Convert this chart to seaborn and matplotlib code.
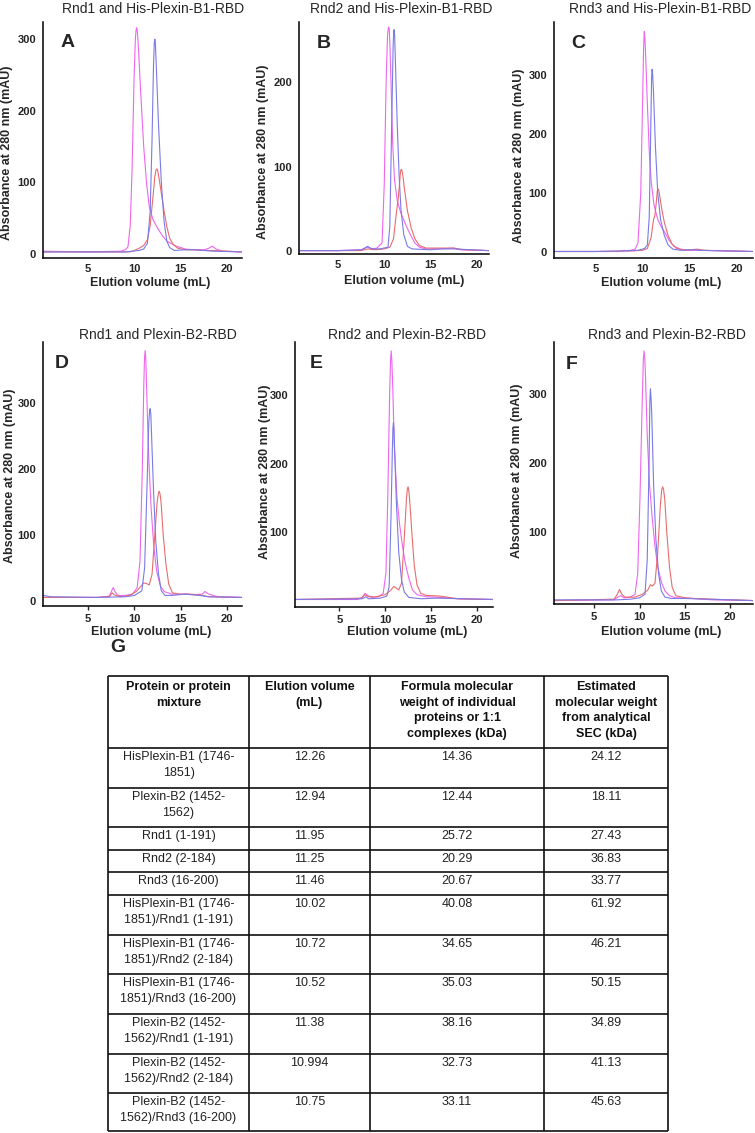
import matplotlib
matplotlib.use("Agg")
import matplotlib.pyplot as plt
import seaborn as sns

# ---- chromatogram traces (elution volume mL, absorbance mAU)
# magenta = 1:1 mixture, blue / red = individual proteins
a_mag_x = [0.2, 5, 8.5, 9.0, 9.3, 9.55, 9.75, 9.95, 10.1, 10.18, 10.25, 10.32, 10.4, 10.7, 11.0, 11.3, 11.6, 12.0, 12.5, 13.0, 13.5, 14.5, 15.5, 16.5, 17.5, 18.0, 18.4, 18.8, 19.5, 21.6]
a_mag_y = [4, 3, 4, 6, 10, 40, 120, 240, 300, 313, 316, 310, 295, 220, 150, 100, 66, 48, 36, 26, 18, 11, 7, 6, 6, 8, 11, 7, 4, 3]
a_blue_x = [0.2, 5, 9, 10.5, 11.0, 11.4, 11.7, 11.9, 12.05, 12.14, 12.2, 12.26, 12.35, 12.6, 12.9, 13.2, 13.5, 13.8, 14.3, 15.5, 16.5, 17.5, 18.5, 21.6]
a_blue_y = [3, 3, 3, 5, 7, 15, 60, 160, 260, 295, 300, 294, 265, 180, 100, 45, 18, 9, 5, 6, 6, 5, 4, 3]
a_red_x = [0.2, 5, 9.5, 10.0, 10.5, 11.0, 11.4, 11.7, 12.0, 12.2, 12.32, 12.42, 12.52, 12.65, 12.9, 13.2, 13.5, 13.8, 14.2, 14.7, 15.5, 16.5, 17.5, 18.5, 21.6]
a_red_y = [3, 3, 3, 5, 8, 12, 20, 40, 80, 108, 117, 119, 116, 106, 85, 60, 38, 22, 13, 8, 6, 6, 5, 5, 3]

b_mag_x = [0.8, 5, 7.5, 7.9, 8.2, 8.6, 9.2, 9.76, 10.0, 10.2, 10.35, 10.42, 10.48, 10.54, 10.62, 10.75, 10.9, 11.1, 11.4, 11.8, 12.3, 12.8, 13.3, 13.8, 14.5, 16.0, 17.5, 18.2, 21.3]
b_mag_y = [1, 1, 2, 4, 5, 3, 4, 10, 80, 200, 255, 263, 265, 262, 240, 190, 130, 85, 60, 45, 32, 20, 10, 5, 3, 3, 4, 2, 1]
b_blue_x = [0.8, 5, 7.6, 8.2, 8.7, 9.5, 10.4, 10.6, 10.8, 10.95, 11.01, 11.06, 11.12, 11.2, 11.4, 11.6, 11.8, 12.1, 12.5, 13.0, 15.0, 16.0, 17.5, 21.3]
b_blue_y = [1, 1, 2, 6, 3, 3, 5, 30, 150, 240, 258, 262, 255, 225, 150, 90, 50, 20, 6, 3, 2, 3, 3, 1]
b_red_x = [0.8, 5, 7.5, 8.2, 9.0, 10.0, 10.6, 11.0, 11.3, 11.5, 11.65, 11.74, 11.82, 11.9, 12.0, 12.2, 12.5, 12.9, 13.3, 13.8, 14.5, 16.0, 17.5, 18.5, 21.3]
b_red_y = [1, 1, 1, 3, 2, 3, 5, 15, 45, 62, 80, 93, 97, 96, 90, 72, 48, 28, 15, 7, 4, 4, 4, 2, 1]

c_mag_x = [0.6, 5, 7.5, 8.0, 8.5, 9.2, 9.5, 9.8, 10.0, 10.1, 10.17, 10.24, 10.32, 10.5, 10.7, 10.9, 11.2, 11.6, 12.0, 12.4, 12.8, 13.3, 14.0, 15.0, 16.0, 21.7]
c_mag_y = [1, 1, 1, 3, 2, 5, 15, 100, 260, 345, 373, 362, 330, 250, 170, 120, 80, 55, 42, 32, 20, 10, 5, 3, 3, 1]
c_blue_x = [0.6, 5, 8.0, 9.5, 10.2, 10.5, 10.7, 10.85, 10.95, 11.0, 11.06, 11.15, 11.35, 11.6, 11.9, 12.3, 12.7, 13.2, 14.0, 15.5, 16.0, 21.7]
c_blue_y = [1, 1, 2, 3, 6, 12, 60, 200, 295, 309, 300, 270, 180, 100, 55, 28, 12, 5, 3, 4, 3, 1]
c_red_x = [0.6, 5, 9.0, 10.0, 10.5, 10.9, 11.15, 11.3, 11.45, 11.55, 11.62, 11.7, 11.8, 12.0, 12.3, 12.7, 13.1, 13.6, 14.5, 15.8, 16.5, 21.7]
c_red_y = [1, 1, 2, 3, 6, 25, 55, 62, 85, 103, 107, 105, 96, 75, 50, 28, 14, 6, 3, 5, 3, 1]

d_mag_x = [0.2, 6.0, 7.3, 7.55, 7.7, 7.9, 8.2, 9.0, 9.8, 10.3, 10.6, 10.85, 11.0, 11.08, 11.15, 11.22, 11.3, 11.5, 11.8, 12.1, 12.4, 12.8, 13.2, 14.0, 15.5, 16.5, 17.3, 17.6, 18.0, 19.0, 21.6]
d_mag_y = [5, 5, 7, 15, 20, 14, 8, 8, 10, 20, 60, 200, 320, 365, 379, 368, 330, 230, 140, 80, 45, 22, 14, 10, 10, 9, 10, 14, 10, 6, 5]
d_blue_x = [0.2, 1.0, 6.0, 9.0, 10.0, 10.8, 11.1, 11.35, 11.55, 11.64, 11.7, 11.77, 11.85, 12.05, 12.3, 12.6, 12.9, 13.3, 14.0, 15.5, 17.0, 18.0, 21.6]
d_blue_y = [8, 6, 5, 6, 8, 15, 50, 170, 270, 288, 291, 282, 250, 170, 90, 40, 15, 8, 8, 10, 8, 6, 5]
d_red_x = [0.2, 6.0, 7.3, 7.6, 7.8, 8.5, 9.5, 10.2, 10.7, 11.0, 11.3, 11.6, 11.9, 12.2, 12.45, 12.58, 12.67, 12.76, 12.88, 13.1, 13.4, 13.7, 14.1, 14.8, 16.0, 17.0, 18.0, 21.6]
d_red_y = [5, 5, 6, 12, 9, 6, 8, 14, 22, 27, 26, 24, 40, 100, 150, 162, 166, 162, 148, 100, 55, 25, 12, 10, 10, 9, 6, 5]

e_mag_x = [0.2, 7.0, 7.5, 7.8, 8.1, 8.5, 9.3, 9.8, 10.1, 10.3, 10.5, 10.6, 10.67, 10.74, 10.85, 11.0, 11.3, 11.6, 11.9, 12.2, 12.6, 13.0, 13.5, 14.5, 16.0, 17.0, 18.0, 21.8]
e_mag_y = [1, 1, 4, 10, 7, 4, 5, 10, 40, 150, 300, 350, 365, 352, 310, 230, 150, 110, 80, 55, 32, 15, 8, 5, 4, 3, 2, 1]
e_blue_x = [0.2, 7.5, 7.9, 8.2, 9.5, 10.2, 10.45, 10.65, 10.8, 10.86, 10.92, 10.98, 11.05, 11.25, 11.5, 11.8, 12.1, 12.6, 14.0, 15.5, 21.8]
e_blue_y = [1, 2, 5, 2, 3, 6, 20, 120, 220, 252, 260, 250, 220, 140, 70, 30, 12, 4, 2, 3, 1]
e_red_x = [0.2, 7.4, 7.8, 8.2, 9.0, 10.0, 10.6, 10.95, 11.2, 11.5, 11.8, 12.1, 12.35, 12.44, 12.52, 12.6, 12.7, 12.95, 13.2, 13.5, 13.9, 14.5, 16.0, 17.0, 18.0, 21.8]
e_red_y = [1, 3, 8, 5, 5, 8, 14, 20, 18, 15, 25, 90, 150, 163, 166, 160, 145, 95, 50, 22, 10, 7, 6, 4, 2, 1]

f_mag_x = [0.6, 7.2, 7.6, 7.9, 8.3, 9.0, 9.5, 9.8, 10.05, 10.3, 10.42, 10.5, 10.58, 10.65, 10.85, 11.1, 11.4, 11.7, 12.0, 12.4, 12.8, 13.3, 14.0, 16.0, 18.0, 22.5]
f_mag_y = [1, 2, 6, 8, 5, 6, 10, 40, 150, 290, 350, 363, 352, 330, 240, 170, 120, 80, 50, 28, 15, 8, 5, 4, 2, 1]
f_blue_x = [0.6, 7.5, 9.0, 10.0, 10.6, 10.85, 11.05, 11.14, 11.2, 11.27, 11.35, 11.55, 11.8, 12.1, 12.4, 12.8, 13.5, 15.0, 22.5]
f_blue_y = [2, 2, 3, 5, 10, 60, 200, 290, 308, 295, 270, 170, 90, 40, 15, 6, 4, 4, 1]
f_red_x = [0.6, 7.2, 7.55, 7.8, 8.05, 8.4, 9.5, 10.3, 10.9, 11.2, 11.4, 11.7, 12.0, 12.3, 12.45, 12.55, 12.65, 12.78, 13.0, 13.3, 13.6, 14.0, 15.0, 16.0, 18.0, 22.5]
f_red_y = [1, 3, 10, 17, 10, 6, 6, 10, 16, 24, 22, 26, 70, 140, 162, 166, 162, 148, 100, 50, 20, 8, 5, 4, 3, 1]

titles = ["Rnd1 and His-Plexin-B1-RBD", "Rnd2 and His-Plexin-B1-RBD", "Rnd3 and His-Plexin-B1-RBD",
          "Rnd1 and Plexin-B2-RBD", "Rnd2 and Plexin-B2-RBD", "Rnd3 and Plexin-B2-RBD"]
letters = ["A", "B", "C", "D", "E", "F"]
x_ticks = [5, 10, 15, 20]
y_ticks_row1 = [[0, 100, 200, 300], [0, 100, 200], [0, 100, 200, 300]]
y_ticks_row2 = [[0, 100, 200, 300], [100, 200, 300], [100, 200, 300]]

# ---- table G
col_headers = ["Protein or protein\nmixture", "Elution volume\n(mL)",
               "Formula molecular\nweight of individual\nproteins or 1:1\ncomplexes (kDa)",
               "Estimated\nmolecular weight\nfrom analytical\nSEC (kDa)"]
proteins = ["HisPlexin-B1 (1746-\n1851)", "Plexin-B2 (1452-\n1562)", "Rnd1 (1-191)", "Rnd2 (2-184)",
            "Rnd3 (16-200)", "HisPlexin-B1 (1746-\n1851)/Rnd1 (1-191)", "HisPlexin-B1 (1746-\n1851)/Rnd2 (2-184)",
            "HisPlexin-B1 (1746-\n1851)/Rnd3 (16-200)", "Plexin-B2 (1452-\n1562)/Rnd1 (1-191)",
            "Plexin-B2 (1452-\n1562)/Rnd2 (2-184)", "Plexin-B2 (1452-\n1562)/Rnd3 (16-200)"]
elution_ml = ["12.26", "12.94", "11.95", "11.25", "11.46", "10.02", "10.72", "10.52", "11.38", "10.994", "10.75"]
formula_kda = ["14.36", "12.44", "25.72", "20.29", "20.67", "40.08", "34.65", "35.03", "38.16", "32.73", "33.11"]
estimated_kda = ["24.12", "18.11", "27.43", "36.83", "33.77", "61.92", "46.21", "50.15", "34.89", "41.13", "45.63"]

MAGENTA = "#ee66ee"
BLUE = "#7a7ae8"
RED = "#e86c6c"
W, H = 755, 1133

# layout in pixels: (left, top, right, bottom)
boxes = [(43, 22, 242, 258), (299, 22, 489, 254), (554, 22, 753, 258),
         (43, 342, 242, 606), (295, 342, 493, 607), (554, 342, 753, 604)]
xlims = [(0.14, 21.6), (0.8, 21.3), (0.6, 21.7), (0.14, 21.6), (0.16, 21.8), (0.58, 22.5)]
ylims = [(-5.5, 324), (-3, 271), (-10, 389), (-8, 392), (-10, 378), (-4, 376)]
title_pos = [(153, 9), (401, 9), (660, 9), (158, 335), (407, 335), (667, 335)]
letter_pos = [(0.123, 0.912), (0.128, 0.908), (0.122, 0.91), (0.094, 0.919), (0.105, 0.917), (0.09, 0.915)]
ylabel_pos = [(7, 153), (263, 152), (519, 156), (10, 476), (265, 472), (517, 471)]
xlabel_pos = [(150, 283), (404, 281), (661, 283), (151, 632), (407, 632), (661, 632)]


def fx(x):
    return x / W


def fy(y):
    return 1 - y / H


def draw_panel(fig, i, traces, yticks):
    l, t, r, b = boxes[i]
    ax = fig.add_axes([fx(l), fy(b), (r - l) / W, (b - t) / H])
    for xs, ys, c in traces:
        sns.lineplot(x=xs, y=ys, ax=ax, color=c, linewidth=0.8, estimator=None, sort=False)
    ax.set_xlim(*xlims[i])
    ax.set_ylim(*ylims[i])
    ax.set_xticks(x_ticks)
    ax.set_yticks(yticks)
    ax.set_xlabel("")
    ax.set_ylabel("")
    sns.despine(ax=ax)
    for s in ["left", "bottom"]:
        ax.spines[s].set_linewidth(1.1)
        ax.spines[s].set_color("black")
    ax.tick_params(axis="y", length=0, pad=5, labelsize=8)
    if i < 3:
        ax.tick_params(axis="x", length=0, pad=4, labelsize=8)
    else:
        ax.tick_params(axis="x", length=3, width=1, pad=3, labelsize=8)
    for lab in ax.get_xticklabels() + ax.get_yticklabels():
        lab.set_fontweight("bold")
    ax.text(*letter_pos[i], letters[i], transform=ax.transAxes, fontsize=14,
            fontweight="bold", ha="center", va="center")
    fig.text(fx(title_pos[i][0]), fy(title_pos[i][1]), titles[i], fontsize=10, ha="center", va="center")
    fig.text(fx(ylabel_pos[i][0]), fy(ylabel_pos[i][1]), "Absorbance at 280 nm (mAU)", rotation=90,
             fontsize=9, fontweight="bold", ha="center", va="center")
    fig.text(fx(xlabel_pos[i][0]), fy(xlabel_pos[i][1]), "Elution volume (mL)",
             fontsize=9, fontweight="bold", ha="center", va="center")
    return ax


def draw_table(fig):
    col_edges = [108, 249, 370, 544, 668]
    row_edges = [676, 748, 788, 827, 850, 872, 895, 935, 974, 1014, 1054, 1093, 1131]
    ax = fig.add_axes([0, 0, 1, 1], zorder=-1)
    ax.set_xlim(0, W)
    ax.set_ylim(H, 0)
    ax.axis("off")
    ax.hlines(row_edges, col_edges[0], col_edges[-1], color="#111111", linewidth=1.2)
    ax.vlines(col_edges, row_edges[0], row_edges[-1], color="#111111", linewidth=1.2)
    centers = [(col_edges[k] + col_edges[k + 1]) / 2 for k in range(4)]
    for k, txt in enumerate(col_headers):
        ax.text(centers[k], row_edges[0] + 5, txt, ha="center", va="top", fontsize=9,
                fontweight="bold", linespacing=1.4, color="#111111")
    for r in range(len(proteins)):
        row = [proteins[r], elution_ml[r], formula_kda[r], estimated_kda[r]]
        for k, txt in enumerate(row):
            ax.text(centers[k], row_edges[r + 1] + 3, txt, ha="center", va="top", fontsize=9,
                    linespacing=1.4, color="#222222")
    fig.text(fx(118), fy(648), "G", fontsize=14, fontweight="bold", ha="center", va="center")


def main():
    sns.set_style("ticks")
    plt.rcParams["font.family"] = ["Liberation Sans", "DejaVu Sans"]
    fig = plt.figure(figsize=(W / 100, H / 100), dpi=100)

    panels = [
        [(a_mag_x, a_mag_y, MAGENTA), (a_red_x, a_red_y, RED), (a_blue_x, a_blue_y, BLUE)],
        [(b_mag_x, b_mag_y, MAGENTA), (b_red_x, b_red_y, RED), (b_blue_x, b_blue_y, BLUE)],
        [(c_mag_x, c_mag_y, MAGENTA), (c_red_x, c_red_y, RED), (c_blue_x, c_blue_y, BLUE)],
        [(d_mag_x, d_mag_y, MAGENTA), (d_red_x, d_red_y, RED), (d_blue_x, d_blue_y, BLUE)],
        [(e_mag_x, e_mag_y, MAGENTA), (e_red_x, e_red_y, RED), (e_blue_x, e_blue_y, BLUE)],
        [(f_mag_x, f_mag_y, MAGENTA), (f_red_x, f_red_y, RED), (f_blue_x, f_blue_y, BLUE)],
    ]
    yticks = y_ticks_row1 + y_ticks_row2
    for i, traces in enumerate(panels):
        draw_panel(fig, i, traces, yticks[i])

    draw_table(fig)
    fig.savefig("out.png", dpi=100)


if __name__ == "__main__":
    main()
